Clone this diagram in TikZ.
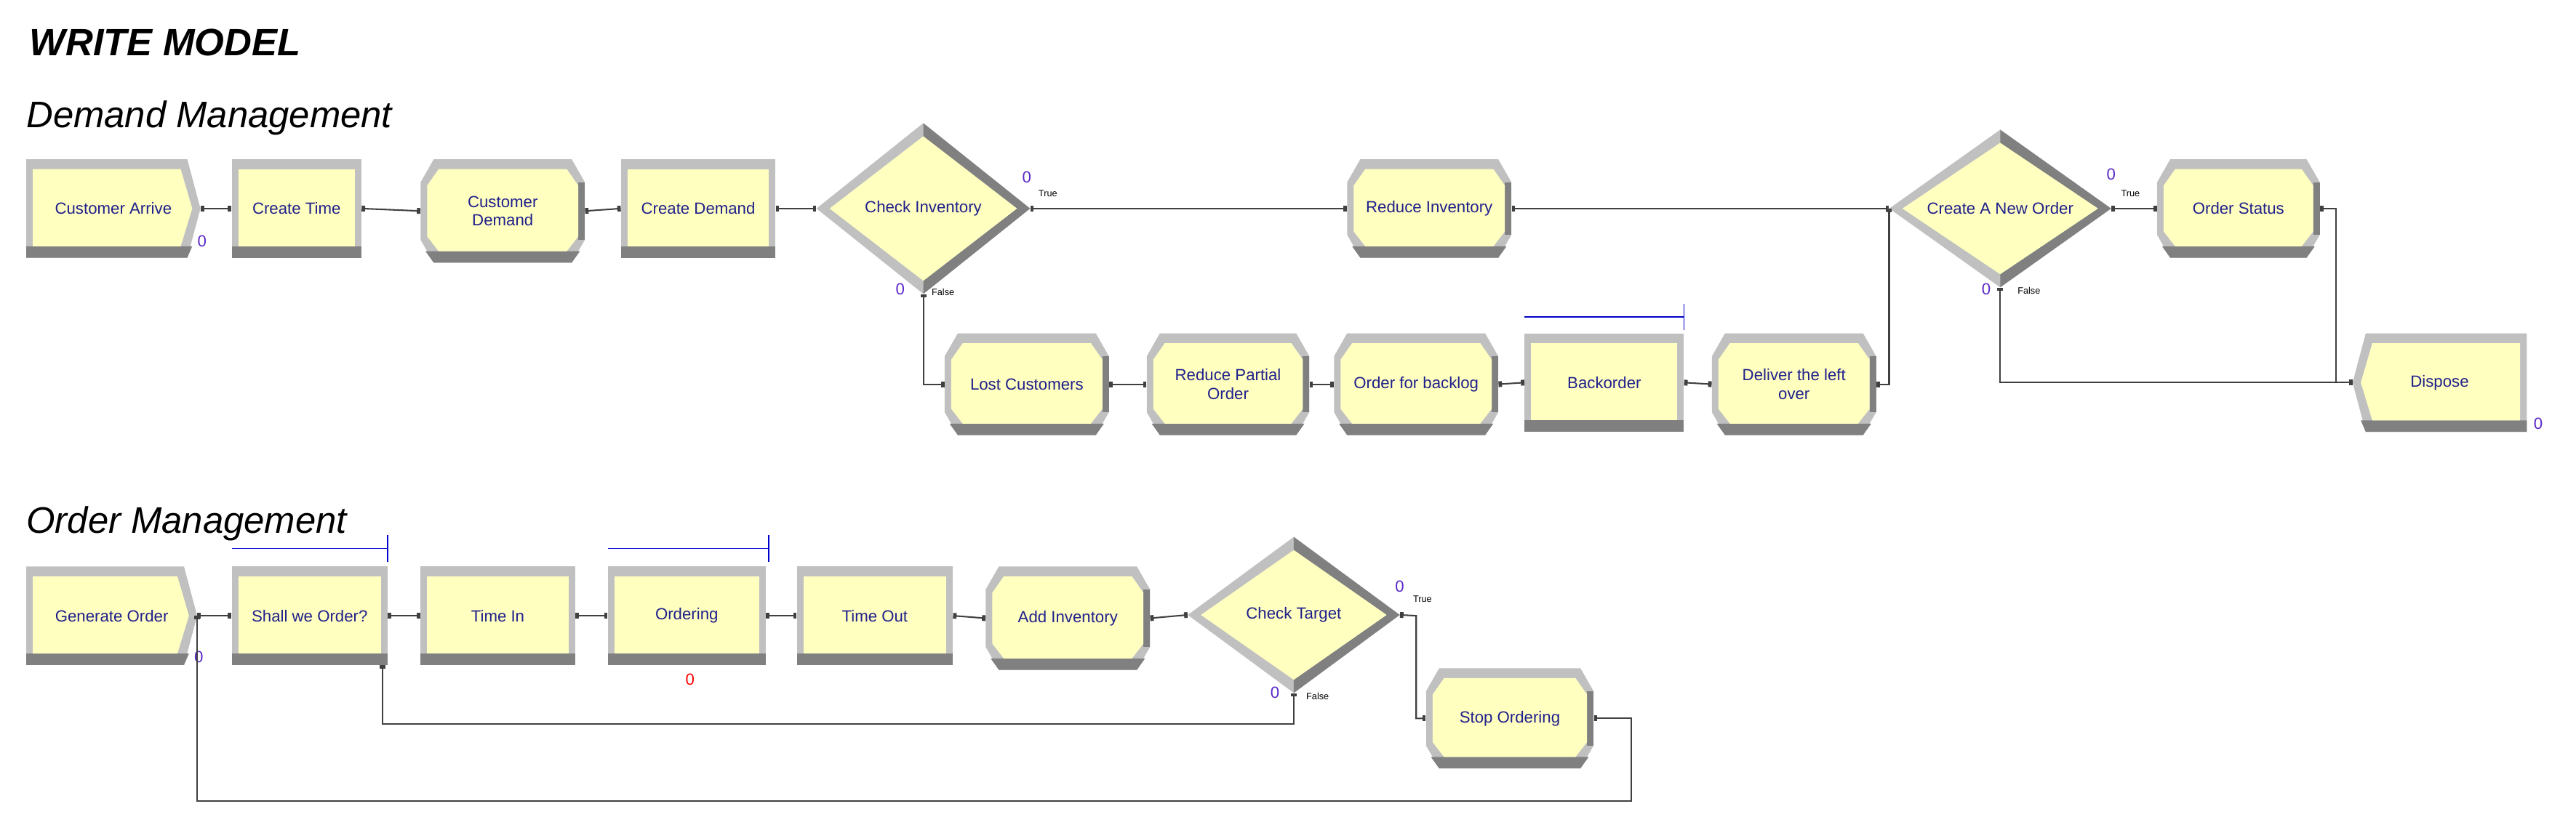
\documentclass[tikz,border=0pt]{standalone}
\usepackage{fontspec}
\setmainfont{Liberation Sans}
\usetikzlibrary{arrows.meta}
\definecolor{yel}{RGB}{255,255,192}
\definecolor{bevL}{RGB}{192,192,192}
\definecolor{bevD}{RGB}{128,128,128}
\definecolor{txtblue}{RGB}{32,32,140}
\definecolor{cnt}{RGB}{90,40,200}
\tikzset{
 modtext/.style={font=\fontsize{14}{16}\selectfont, text=txtblue, align=center, inner sep=0pt},
 conn/.style={draw=black!75, line width=1.3pt, {Square[length=3pt,width=5pt]}-{Square[length=3pt,width=5pt]}},
 lbl/.style={font=\fontsize{8}{9}\selectfont, text=black, inner sep=0pt, anchor=west},
 count/.style={font=\fontsize{14}{16}\selectfont, text=cnt, inner sep=0pt},
 heading/.style={font=\fontsize{32}{36}\itshape\selectfont, anchor=west, inner sep=0pt},
 queue/.style={draw=blue!80!black, line width=1pt}
}
% #1 name #2 x1 #3 y1 #4 x2 #5 y2 #6 text
\newcommand\RectMod[6]{%
 \fill[bevL] (#2,#3) rectangle (#4,#5);
 \fill[bevD] (#2,{#5-7}) rectangle (#4,#5);
 \fill[yel] ({#2+4},{#3+6}) rectangle ({#4-4},{#5-7});
 \node[modtext, minimum width={(#4-#2)*0.05cm}, minimum height={(#5-#3)*0.05cm}] (#1) at ({(#2+#4)/2},{(#3+#5)/2}) {#6};}
\newcommand\OctMod[6]{%
 \fill[bevL] ({#2+8},#3) -- ({#4-8},#3) -- (#4,{#3+14}) -- (#4,{#5-14}) -- ({#4-8},#5) -- ({#2+8},#5) -- (#2,{#5-14}) -- (#2,{#3+14}) -- cycle;
 \fill[bevD] ({#2+3},{#5-7}) -- ({#4-3},{#5-7}) -- ({#4-8},#5) -- ({#2+8},#5) -- cycle;
 \fill[bevD] (#4,{#3+14}) -- (#4,{#5-14}) -- ({#4-4},{#5-14}) -- ({#4-4},{#3+14}) -- cycle;
 \fill[yel] ({#2+11},{#3+6}) -- ({#4-11},{#3+6}) -- ({#4-4},{#3+16}) -- ({#4-4},{#5-16}) -- ({#4-11},{#5-7}) -- ({#2+11},{#5-7}) -- ({#2+4},{#5-16}) -- ({#2+4},{#3+16}) -- cycle;
 \node[modtext, minimum width={(#4-#2)*0.05cm}, minimum height={(#5-#3)*0.05cm}] (#1) at ({(#2+#4)/2},{(#3+#5)/2}) {#6};}
\newcommand\CreateMod[6]{%
 \fill[bevL] (#2,#3) -- ({#4-8},#3) -- (#4,{(#3+#5)/2}) -- ({#4-8},#5) -- (#2,#5) -- cycle;
 \fill[bevD] (#2,{#5-7}) -- ({#4-5},{#5-7}) -- ({#4-8},#5) -- (#2,#5) -- cycle;
 \fill[yel] ({#2+4},{#3+6}) -- ({#4-12},{#3+6}) -- ({#4-5},{(#3+#5)/2}) -- ({#4-12},{#5-7}) -- ({#2+4},{#5-7}) -- cycle;
 \node[modtext, minimum width={(#4-#2)*0.05cm}, minimum height={(#5-#3)*0.05cm}] (#1) at ({(#2+#4)/2},{(#3+#5)/2}) {#6};}
\newcommand\DisposeMod[6]{%
 \fill[bevL] (#2,{(#3+#5)/2}) -- ({#2+8},#3) -- (#4,#3) -- (#4,#5) -- ({#2+8},#5) -- cycle;
 \fill[bevD] ({#2+5},{#5-7}) -- (#4,{#5-7}) -- (#4,#5) -- ({#2+8},#5) -- cycle;
 \fill[yel] ({#2+5},{(#3+#5)/2}) -- ({#2+12},{#3+6}) -- ({#4-4},{#3+6}) -- ({#4-4},{#5-7}) -- ({#2+12},{#5-7}) -- cycle;
 \node[modtext, minimum width={(#4-#2)*0.05cm}, minimum height={(#5-#3)*0.05cm}] (#1) at ({(#2+#4)/2},{(#3+#5)/2}) {#6};}
% diamond: #2 x1 #3 y1 #4 x2 #5 y2
\newcommand\DecMod[6]{%
 \fill[bevL] ({(#2+#4)/2},#3) -- (#4,{(#3+#5)/2}) -- ({(#2+#4)/2},#5) -- (#2,{(#3+#5)/2}) -- cycle;
 \fill[bevD] ({(#2+#4)/2},#3) -- (#4,{(#3+#5)/2}) -- ({(#2+#4)/2},#5) -- ({(#2+#4)/2},{#5-8}) -- ({#4-8},{(#3+#5)/2}) -- ({(#2+#4)/2},{#3+8}) -- cycle;
 \fill[yel] ({(#2+#4)/2},{#3+8}) -- ({#4-8},{(#3+#5)/2}) -- ({(#2+#4)/2},{#5-8}) -- ({#2+8},{(#3+#5)/2}) -- cycle;
 \node[modtext, minimum width={(#4-#2)*0.05cm}, minimum height={(#5-#3)*0.05cm}] (#1) at ({(#2+#4)/2},{(#3+#5)/2}) {#6};}
\begin{document}
\begin{tikzpicture}[x=0.05cm,y=-0.05cm]
\useasboundingbox[fill=white] (0,0) rectangle (1568,507);
\node[font=\fontsize{33}{36}\bfseries\itshape\selectfont, anchor=west, inner sep=0pt] (title) at (18,26) {WRITE MODEL};
\node[heading] (h1) at (16,72) {Demand Management};
\node[heading] (h2) at (16,319) {Order Management};

% Demand row 1
\CreateMod{ca}{16}{97}{122}{157}{Customer Arrive}
\RectMod{ctime}{141}{97}{220}{157}{Create Time}
\OctMod{cd}{256}{97}{356}{160}{Customer\\Demand}
\RectMod{cdem}{378}{97}{472}{157}{Create Demand}
\DecMod{ci}{497}{75}{627}{179}{Check Inventory}
\OctMod{ri}{820}{97}{920}{157}{Reduce Inventory}
\DecMod{cno}{1150}{79}{1285}{175}{Create A New Order}
\OctMod{os}{1313}{97}{1412}{157}{Order Status}
\DisposeMod{disp}{1432}{203}{1538}{263}{Dispose}
% Demand row 2
\OctMod{lc}{575}{203}{675}{265}{Lost Customers}
\OctMod{rpo}{698}{203}{797}{265}{Reduce Partial\\Order}
\OctMod{ofb}{812}{203}{912}{265}{Order for backlog}
\RectMod{bo}{928}{203}{1025}{263}{Backorder}
\OctMod{dlo}{1042}{203}{1142}{265}{Deliver the left\\over}
\draw[queue] (928,193) -- (1025,193) (1025,185) -- (1025,201);

% Order row
\CreateMod{go}{16}{345}{120}{405}{Generate Order}
\RectMod{swo}{141}{345}{236}{405}{Shall we Order?}
\RectMod{tin}{256}{345}{350}{405}{Time In}
\RectMod{ord}{370}{345}{466}{405}{Ordering}
\RectMod{tout}{485}{345}{580}{405}{Time Out}
\OctMod{ai}{600}{345}{700}{408}{Add Inventory}
\DecMod{ctg}{723}{327}{852}{422}{Check Target}
\OctMod{so}{868}{407}{970}{468}{Stop Ordering}
\draw[queue] (141,334) -- (236,334) (236,326) -- (236,342);
\draw[queue] (370,334) -- (468,334) (468,326) -- (468,342);

% counters and labels
\node[count] (n1) at (123,147) {0};
\node[count] (n2) at (625,108) {0};
\node[lbl] (t1) at (632,118) {True};
\node[count] (n3) at (548,176) {0};
\node[lbl] (f1) at (567,178) {False};
\node[count] (n4) at (1285,106) {0};
\node[lbl] (t2) at (1291,118) {True};
\node[count] (n5) at (1209,176) {0};
\node[lbl] (f2) at (1228,177) {False};
\node[count] (n6) at (1545,258) {0};
\node[count] (n7) at (121,400) {0};
\node[count, text=red] (n8) at (420,414) {0};
\node[count] (n9) at (852,357) {0};
\node[lbl] (t3) at (860,365) {True};
\node[count] (n10) at (776,422) {0};
\node[lbl] (f3) at (795,424) {False};

% coordinates
\coordinate (j1) at (1422,127);
\coordinate (j2) at (862,375);
\coordinate (j3) at (233,441);
\coordinate (swb) at (233,405);
\coordinate (j4) at (993,488);

% connectors
\draw[conn] (ca.east) -- (ctime.west);
\draw[conn] (ctime.east) -- (cd.west);
\draw[conn] (cd.east) -- (cdem.west);
\draw[conn] (cdem.east) -- (ci.west);
\draw[conn] (ci.east) -- (ri.west);
\draw[conn] (ri.east) -- (cno.west);
\draw[conn] (ci.south) |- (lc.west);
\draw[conn] (lc.east) -- (rpo.west);
\draw[conn] (rpo.east) -- (ofb.west);
\draw[conn] (ofb.east) -- (bo.west);
\draw[conn] (bo.east) -- (dlo.west);
\draw[conn] (dlo.east) -| (cno.west);
\draw[conn] (cno.east) -- (os.west);
\draw[conn] (os.east) -- (j1) |- (disp.west);
\draw[conn] (cno.south) |- (disp.west);
\draw[conn] (go.east) -- (swo.west);
\draw[conn] (swo.east) -- (tin.west);
\draw[conn] (tin.east) -- (ord.west);
\draw[conn] (ord.east) -- (tout.west);
\draw[conn] (tout.east) -- (ai.west);
\draw[conn] (ai.east) -- (ctg.west);
\draw[conn] (ctg.east) -- (j2) |- (so.west);
\draw[conn] (ctg.south) |- (j3) -- (swb);
\draw[conn] (so.east) -| (j4) -| (go.east);
\end{tikzpicture}
\end{document}
